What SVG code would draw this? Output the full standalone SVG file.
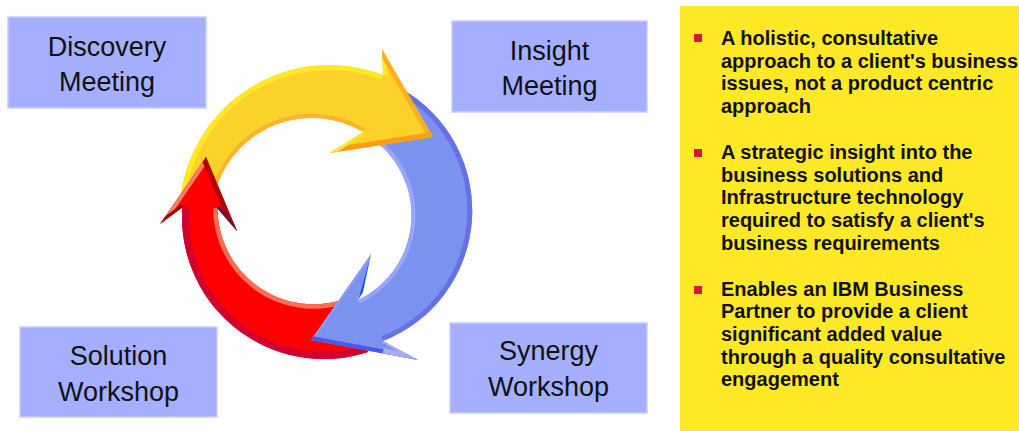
<svg xmlns="http://www.w3.org/2000/svg" width="1019" height="431" viewBox="0 0 1019 431">
  <style>
    .box { fill: #A6AFFF; stroke: #C8CCFF; stroke-width: 1.5; }
    .boxtext { font-family: "Liberation Sans", Arial, sans-serif; font-size: 27px; fill: #111; text-anchor: middle; }
    .bullet { fill: #DC143C; }
    .ptext { font-family: "Liberation Sans", Arial, sans-serif; font-size: 20px; font-weight: bold; fill: #111; }
    .edge { fill: none; stroke-linejoin: miter; }
  </style>
  <defs>
    <path id="yellowShape" d="M180,203 A150,150 0 0 1 383,75 L382,49 L433,137 L330,153 L363,132 A100,100 0 0 0 217,186 Z"/>
    <path id="blueShape" d="M400,88 A140,140 0 0 1 383,341 L418,360 L311,340 L371,254 L358,300 A94,94 0 0 0 374,140 Z"/>
    <path id="redShaft" d="M368,352 A142,142 0 0 1 183,200 L218,200 A96,96 0 0 0 342,300 Z"/>
    <path id="redHead" d="M183,207 L160,224 L206,157 L237,231 L217,208 Z"/>
    <clipPath id="clipYellow"><use href="#yellowShape"/></clipPath>
    <clipPath id="clipBlue"><use href="#blueShape"/></clipPath>
    <clipPath id="clipRedShaft"><use href="#redShaft"/></clipPath>
    <clipPath id="clipRedHead"><use href="#redHead"/></clipPath>
  </defs>

  <rect width="1019" height="431" fill="#FFFFFF"/>

  <g id="cycle-arrows">
    <g id="red-shaft">
      <use href="#redShaft" fill="#FF0000"/>
      <g clip-path="url(#clipRedShaft)" class="edge">
        <path d="M368,352 A142,142 0 0 1 183,200" stroke="#D2002E" stroke-width="14"/>
        <path d="M218,200 A96,96 0 0 0 342,300" stroke="#FF6E52" stroke-width="9"/>
      </g>
    </g>
    <g id="blue-arrow">
      <use href="#blueShape" fill="#7B92EE"/>
      <g clip-path="url(#clipBlue)" class="edge">
        <path d="M400,88 A140,140 0 0 1 383,341" stroke="#6571E4" stroke-width="10"/>
        <path d="M358,300 A94,94 0 0 0 374,140" stroke="#99A6FF" stroke-width="8"/>
        <path d="M311,340 L371,254" stroke="#8C9DFF" stroke-width="4"/>
        <path d="M311,340 L418,360" stroke="#4B5AE6" stroke-width="8"/>
        <path d="M383,352 L418,360" stroke="#A4AEFF" stroke-width="8"/>
        <path d="M418,360 L383,341" stroke="#A4AEFF" stroke-width="4"/>
      </g>
      <polygon points="371,254 358,300 363,292" fill="#1E4CF5"/>
    </g>
    <g id="yellow-arrow">
      <use href="#yellowShape" fill="#FAD22A"/>
      <g clip-path="url(#clipYellow)" class="edge">
        <path d="M180,203 A150,150 0 0 1 383,75" stroke="#FFE824" stroke-width="10"/>
        <path d="M363,132 A100,100 0 0 0 217,186" stroke="#FFB232" stroke-width="8"/>
        <path d="M383,75 L382,49" stroke="#FFE824" stroke-width="8"/>
        <path d="M382,49 L433,137" stroke="#FFAC22" stroke-width="9"/>
        <path d="M433,137 L330,153" stroke="#FF9C14" stroke-width="10"/>
        <path d="M330,153 L363,132" stroke="#FFE626" stroke-width="6"/>
      </g>
    </g>
    <g id="red-head">
      <use href="#redHead" fill="#FF0000"/>
      <g clip-path="url(#clipRedHead)" class="edge">
        <path d="M206,157 L160,224" stroke="#F37C62" stroke-width="8"/>
        <path d="M160,224 L183,207" stroke="#A00808" stroke-width="6"/>
        <path d="M206,157 L237,231" stroke="#B00404" stroke-width="10"/>
        <path d="M237,231 L217,208" stroke="#6B0F3E" stroke-width="6"/>
      </g>
    </g>
  </g>

  <g id="discovery-meeting">
    <rect class="box" x="8" y="17" width="198" height="91"/>
    <text class="boxtext" x="107" y="56">Discovery</text>
    <text class="boxtext" x="107" y="91">Meeting</text>
  </g>
  <g id="insight-meeting">
    <rect class="box" x="452" y="21" width="195" height="91"/>
    <text class="boxtext" x="549.5" y="60">Insight</text>
    <text class="boxtext" x="549.5" y="95">Meeting</text>
  </g>
  <g id="solution-workshop">
    <rect class="box" x="20" y="327" width="197" height="90"/>
    <text class="boxtext" x="118.5" y="365">Solution</text>
    <text class="boxtext" x="118.5" y="400.5">Workshop</text>
  </g>
  <g id="synergy-workshop">
    <rect class="box" x="450" y="323" width="197" height="90"/>
    <text class="boxtext" x="548.5" y="360">Synergy</text>
    <text class="boxtext" x="548.5" y="395.5">Workshop</text>
  </g>

  <g id="benefits-panel">
    <rect x="680" y="6" width="339" height="425" fill="#FFE927"/>
    <rect class="bullet" x="694" y="34" width="8" height="8"/>
    <rect class="bullet" x="694" y="149" width="8" height="8"/>
    <rect class="bullet" x="694" y="286" width="8" height="8"/>
    <text class="ptext" x="721" y="45">A holistic, consultative</text>
    <text class="ptext" x="721" y="67.7">approach to a client's business</text>
    <text class="ptext" x="721" y="90.4">issues, not a product centric</text>
    <text class="ptext" x="721" y="113.1">approach</text>
    <text class="ptext" x="721" y="159">A strategic insight into the</text>
    <text class="ptext" x="721" y="181.7">business solutions and</text>
    <text class="ptext" x="721" y="204.4">Infrastructure technology</text>
    <text class="ptext" x="721" y="227.1">required to satisfy a client's</text>
    <text class="ptext" x="721" y="249.8">business requirements</text>
    <text class="ptext" x="721" y="295.5">Enables an IBM Business</text>
    <text class="ptext" x="721" y="318.2">Partner to provide a client</text>
    <text class="ptext" x="721" y="340.9">significant added value</text>
    <text class="ptext" x="721" y="363.6">through a quality consultative</text>
    <text class="ptext" x="721" y="386.3">engagement</text>
  </g>
</svg>
